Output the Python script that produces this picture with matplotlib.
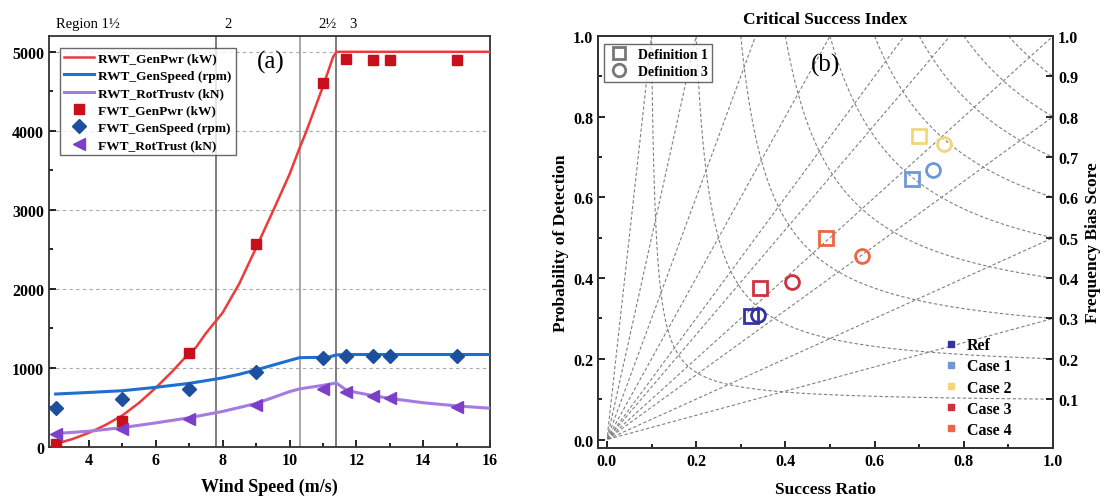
import numpy as np
import matplotlib
matplotlib.use("Agg")
import matplotlib.pyplot as plt
from matplotlib.lines import Line2D
from matplotlib.ticker import MultipleLocator

plt.rcParams['font.family'] = ['Liberation Serif', 'DejaVu Serif']

# ---------------- Panel (a) data ----------------
rwt_ws = [3, 3.5, 4, 4.5, 5, 5.5, 6, 6.5, 7, 7.2, 7.5, 8, 8.5, 9, 9.5, 10, 10.3,
          10.5, 11, 11.3, 11.4, 12, 13, 14, 15, 16]
rwt_genpwr = [40, 100, 180, 280, 400, 560, 750, 960, 1190, 1260, 1440, 1700, 2070,
              2520, 2980, 3450, 3780, 3990, 4560, 4930, 5000, 5000, 5000, 5000, 5000, 5000]
rwt_gspd_ws = [3, 4, 5, 6, 7, 7.8, 8, 8.5, 9, 9.5, 10, 10.3, 11, 11.2, 11.4, 12, 13, 14, 15, 16]
rwt_genspeed = [670, 690, 712, 755, 805, 860, 875, 920, 975, 1035, 1095, 1130, 1135,
                1140, 1165, 1170, 1170, 1170, 1170, 1170]
rwt_thr_ws = [3, 4, 5, 6, 7, 8, 9, 10, 10.3, 11, 11.4, 11.7, 12, 12.5, 13, 14, 15, 16]
rwt_thrust = [170, 200, 245, 305, 370, 450, 550, 700, 735, 780, 810, 720, 690, 650,
              615, 560, 520, 490]

fwt_ws = [3, 5, 7, 9, 11, 11.7, 12.5, 13, 15]
fwt_genpwr = [40, 330, 1190, 2570, 4600, 4910, 4890, 4890, 4890]
fwt_genspeed = [495, 605, 730, 955, 1130, 1150, 1150, 1150, 1150]
fwt_thrust = [168, 225, 350, 528, 737, 690, 640, 615, 505]

region_bounds = [7.8, 10.3, 11.4]
region_labels = ["Region 1\u00bd", "2", "2\u00bd", "3"]
region_label_x = [3.0, 8.05, 10.85, 11.8]

# ---------------- Panel (b) data ----------------
case_names = ["Ref", "Case 1", "Case 2", "Case 3", "Case 4"]
case_colors = ["#34349a", "#6f97d6", "#f2d57c", "#cc3340", "#ee6545"]
def1_sr = [0.322, 0.684, 0.699, 0.343, 0.490]
def1_pod = [0.305, 0.646, 0.751, 0.376, 0.500]
def3_sr = [0.338, 0.730, 0.756, 0.415, 0.571]
def3_pod = [0.309, 0.669, 0.733, 0.390, 0.455]
csi_levels = [0.1, 0.2, 0.3, 0.4, 0.5, 0.6, 0.7, 0.8, 0.9]
bias_levels = [0.3, 0.5, 0.8, 1.0, 1.3, 1.5, 2.0, 3.0, 5.0, 10.0]
right_ticks = [0.1, 0.2, 0.3, 0.4, 0.5, 0.6, 0.7, 0.8, 0.9, 1.0]

fig = plt.figure(figsize=(11.08, 5.02), dpi=100)

# ================= Panel (a) =================
ax = fig.add_axes([0.0442, 0.1076, 0.398, 0.8187])
ax.set_xlim(2.8, 16)
ax.set_ylim(0, 5200)
for y in [1000, 2000, 3000, 4000, 5000]:
    ax.axhline(y, color='#aaaaaa', lw=0.8, ls=(0, (3, 3)), zorder=0)
for xb in region_bounds:
    ax.axvline(xb, color='#666666' if xb != 10.3 else '#999999', lw=1.2, zorder=1)

ax.plot(rwt_ws, rwt_genpwr, color='#ee3a3a', lw=1.8, label='RWT_GenPwr (kW)', zorder=3)
ax.plot(rwt_gspd_ws, rwt_genspeed, color='#1f6fd0', lw=2.2, label='RWT_GenSpeed (rpm)', zorder=3)
ax.plot(rwt_thr_ws, rwt_thrust, color='#a57be2', lw=2.2, label='RWT_RotTrustv (kN)', zorder=3)
ax.plot(fwt_ws, fwt_genpwr, ls='none', marker='s', ms=6.5, color='#c8101c',
        label='FWT_GenPwr (kW)', zorder=4)
ax.plot(fwt_ws, fwt_genspeed, ls='none', marker='D', ms=7, color='#1d4f9e',
        label='FWT_GenSpeed (rpm)', zorder=4)
ax.plot(fwt_ws, fwt_thrust, ls='none', marker='<', ms=8, color='#7c3fc8',
        label='FWT_RotTrust (kN)', zorder=4)

ax.xaxis.set_major_locator(MultipleLocator(2))
ax.xaxis.set_minor_locator(MultipleLocator(1))
ax.yaxis.set_major_locator(MultipleLocator(1000))
ax.yaxis.set_minor_locator(MultipleLocator(500))
ax.tick_params(which='both', direction='in', top=False, right=False, labelsize=11.5, width=1.2)
ax.tick_params(which='major', length=5)
ax.tick_params(which='minor', length=3)
for lab in ax.get_xticklabels() + ax.get_yticklabels():
    lab.set_fontweight('bold')
for sp in ax.spines.values():
    sp.set_linewidth(1.3)
    sp.set_color('#333333')
ax.set_xlabel('Wind Speed (m/s)', fontsize=13, fontweight='bold', labelpad=7)

for lab, xl in zip(region_labels, region_label_x):
    ax.text(xl, 1.015, lab, transform=ax.get_xaxis_transform(), fontsize=10.5,
            ha='left', va='bottom')
ax.text(9.45, 4880, '(a)', fontsize=18, ha='center', va='center')

leg = ax.legend(loc='upper left', bbox_to_anchor=(0.02, 0.977),
                prop={'weight': 'bold', 'size': 9.6}, frameon=True, fancybox=False,
                edgecolor='#444444', handlelength=2.2, handletextpad=0.35,
                borderpad=0.3, labelspacing=0.38, borderaxespad=0.2)
leg.get_frame().set_linewidth(1.0)
leg.set_zorder(5)

# ================= Panel (b) =================
bx = fig.add_axes([0.5397, 0.1056, 0.4107, 0.8207])
bx.set_xlim(-0.02, 1.0)
bx.set_ylim(-0.021, 1.0)

sr = np.linspace(0.001, 1.0, 600)
pod = np.linspace(0.001, 1.0, 600)
SR, POD = np.meshgrid(sr, pod)
CSI = 1.0 / (1.0 / SR + 1.0 / POD - 1.0)
BIAS = POD / SR
bx.contour(SR, POD, CSI, levels=csi_levels, colors='#808080', linewidths=0.8,
           linestyles=[(0, (3, 2))], zorder=1)
bx.contour(SR, POD, BIAS, levels=bias_levels, colors='#808080', linewidths=0.8,
           linestyles=[(0, (3, 2))], zorder=1)

for i in range(len(case_names)):
    bx.plot(def1_sr[i], def1_pod[i], ls='none', marker='s', ms=10, mfc='none',
            mec=case_colors[i], mew=2.0, zorder=4)
    bx.plot(def3_sr[i], def3_pod[i], ls='none', marker='o', ms=10, mfc='none',
            mec=case_colors[i], mew=2.0, zorder=4)

bx.xaxis.set_major_locator(MultipleLocator(0.2))
bx.xaxis.set_minor_locator(MultipleLocator(0.1))
bx.yaxis.set_major_locator(MultipleLocator(0.2))
bx.yaxis.set_minor_locator(MultipleLocator(0.1))
bx.tick_params(which='both', direction='in', top=False, right=False, labelsize=11.5, width=1.2)
bx.tick_params(which='major', length=5)
bx.tick_params(which='minor', length=3)
for lab in bx.get_xticklabels() + bx.get_yticklabels():
    lab.set_fontweight('bold')
for sp in bx.spines.values():
    sp.set_linewidth(1.3)
    sp.set_color('#333333')
bx.set_xlabel('Success Ratio', fontsize=12.5, fontweight='bold', labelpad=9)
bx.set_ylabel('Probability of Detection', fontsize=12.5, fontweight='bold', labelpad=3)
bx.set_title('Critical Success Index', fontsize=12.5, fontweight='bold', pad=9)
bx.text(0.49, 0.93, '(b)', fontsize=18, ha='center', va='center')

rx = bx.twinx()
rx.set_ylim(bx.get_ylim())
rx.set_yticks(right_ticks)
rx.set_yticklabels([f"{t:.1f}" for t in right_ticks], fontweight='bold')
rx.tick_params(direction='in', length=5, width=1.2, labelsize=11.5)
rx.set_ylabel('Frequency Bias Score', fontsize=12.5, fontweight='bold', labelpad=5)
for sp in rx.spines.values():
    sp.set_linewidth(1.3)
    sp.set_color('#333333')

def_handles = [
    Line2D([], [], ls='none', marker='s', ms=9, mfc='none', mec='#777777', mew=2.0),
    Line2D([], [], ls='none', marker='o', ms=9, mfc='none', mec='#777777', mew=2.0),
]
leg1 = bx.legend(def_handles, ['Definition 1', 'Definition 3'], loc='upper left',
                 bbox_to_anchor=(0.0, 0.995), prop={'weight': 'bold', 'size': 10},
                 frameon=True, fancybox=False, edgecolor='#444444', handletextpad=0.6,
                 handlelength=1.6, borderpad=0.3, labelspacing=0.3, borderaxespad=0.4)
leg1.get_frame().set_linewidth(1.0)
bx.add_artist(leg1)

case_handles = [Line2D([], [], ls='none', marker='s', ms=5, color=c) for c in case_colors]
leg2 = bx.legend(case_handles, case_names, loc='lower right', bbox_to_anchor=(0.94, -0.01),
                 prop={'weight': 'bold', 'size': 11.5}, frameon=False, handletextpad=0.35,
                 handlelength=1.2, labelspacing=0.32)

fig.savefig('out.png', dpi=100)
